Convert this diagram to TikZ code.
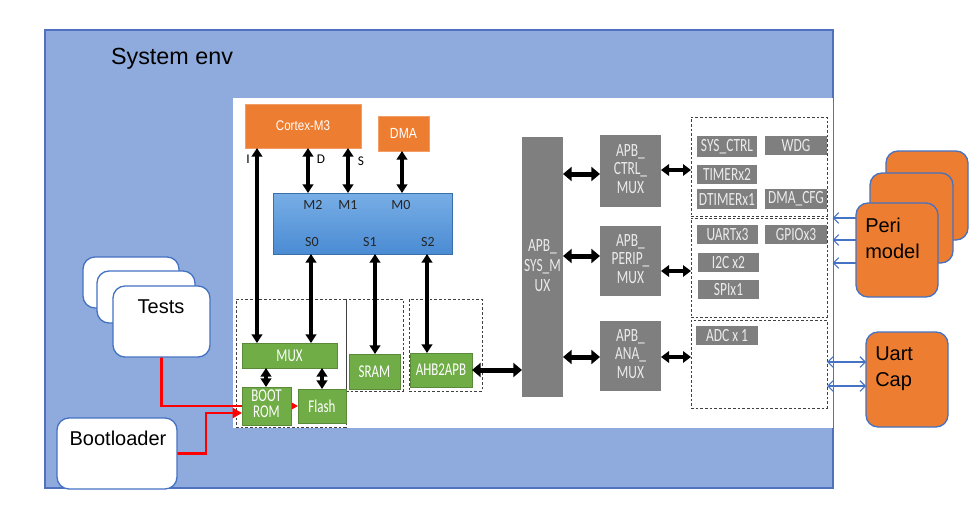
\documentclass[tikz,border=0pt]{standalone}
\usepackage{fontspec}
\setmainfont{Liberation Sans}
\newfontfamily\cb{Carlito}
\newfontfamily\cbn[FakeStretch=0.72]{Carlito}
\newfontfamily\arn[FakeStretch=0.83]{Liberation Sans}
\usetikzlibrary{arrows.meta}
\pgfdeclarelayer{bg}
\pgfdeclarelayer{mid}
\pgfsetlayers{bg,mid,main}
\definecolor{envfill}{HTML}{8FAADC}
\definecolor{envline}{HTML}{4F71BE}
\definecolor{org}{HTML}{ED7D31}
\definecolor{grn}{HTML}{70AD47}
\definecolor{gry}{HTML}{7F7F7F}
\definecolor{bl}{HTML}{4472C4}
\definecolor{bmtop}{HTML}{78AEE6}
\definecolor{bmbot}{HTML}{4A8BD3}
\newcommand\lns[1]{\begin{tabular}{@{}c@{}}#1\end{tabular}}
% box from (x1,y1) to (x2,y2) in pixel units
\newcommand\bx[7]{\node[#1, minimum width={(#5-#3)*0.75pt}, minimum height={(#6-#4)*0.75pt}] (#2) at ({(#3+#5)/2},{(#4+#6)/2}) {#7};}
\begin{document}
\begin{tikzpicture}[x=0.75pt,y=-0.75pt,
  box/.style={inner sep=0pt, outer sep=0pt},
  orgbox/.style={box, fill=org, draw=org!75!white, line width=0.5pt, text=white, font=\arn\fontsize{10.5}{12}\selectfont},
  grnbox/.style={box, fill=grn, draw=grn!80!black, line width=0.5pt, text=white, font=\cbn\fontsize{13.5}{14}\selectfont},
  grybox/.style={box, fill=gry, text=white!92!black, font=\cbn\fontsize{14}{14}\selectfont},
  muxbox/.style={box, fill=gry, text=white!92!black, font=\cbn\fontsize{14}{14}\selectfont},
  bmx/.style={box, top color=bmtop, bottom color=bmbot, draw=bmbot!80!black, line width=0.4pt},
  blbl/.style={font=\cb\fontsize{10.5}{12}\selectfont, text=black!85, inner sep=0pt},
  slbl/.style={font=\cb\fontsize{10}{12}\selectfont, text=black, inner sep=0pt},
  dbox/.style={box, draw=black!75, dash pattern=on 2pt off 1.5pt, line width=0.6pt},
  bus/.style={line width=3.1pt, {Triangle[length=6.5pt,width=8pt]}-{Triangle[length=6.5pt,width=8pt]}},
  hbus/.style={line width=3.75pt, {Triangle[length=6.5pt,width=10.5pt]}-{Triangle[length=6.5pt,width=10.5pt]}},
  sbus/.style={line width=3pt, {Triangle[length=6pt,width=8.5pt]}-{Triangle[length=6pt,width=8.5pt]}},
  rarr/.style={draw=red, line width=2.2pt, -{Triangle[length=7pt,width=7.5pt]}},
  barb/.style={draw=bl, line width=0.8pt},
  tstack/.style={box, draw=bl, fill=white, line width=1pt, rounded corners=9pt},
  ostack/.style={box, draw=bl, fill=org, line width=1pt, rounded corners=9pt},
  bigtxt/.style={font=\fontsize{15}{19.5}\selectfont, inner sep=0pt, align=left}
]
\useasboundingbox (0,0) rectangle (979,511);

\begin{pgfonlayer}{bg}
\fill[white] (0,0) rectangle (979,511);
% environment
\bx{box, fill=envfill, draw=envline, line width=0.8pt}{env}{45}{30}{833}{488}{}
\bx{box, fill=white}{chip}{233}{98}{832.6}{428}{}
% dashed groups
\bx{dbox}{d1}{236}{299}{346}{427}{}
\bx{dbox}{d2}{346}{299}{403}{391}{}
\bx{dbox}{d3}{409}{299}{482}{391}{}
\bx{dbox}{db1}{691}{117}{827}{216}{}
\bx{dbox}{db2}{691}{218}{827}{317}{}
\bx{dbox}{db3}{691}{320}{827}{408}{}
\end{pgfonlayer}
\node[font=\fontsize{17.5}{20}\selectfont, inner sep=0pt, anchor=north] (envlbl) at (172,48) {System env};

% masters
\bx{orgbox}{cm}{245}{104}{361}{148}{Cortex-M3}
\bx{orgbox, font=\arn\fontsize{11}{12}\selectfont}{dma}{378}{116}{429}{151}{DMA}

% bus matrix
\bx{bmx}{bm}{273}{193}{452}{254}{}
\node[blbl] (m2) at (313,205) {M2};
\node[blbl] (m1) at (348,205) {M1};
\node[blbl] (m0) at (401,205) {M0};
\node[blbl] (s0) at (312,242) {S0};
\node[blbl] (s1) at (370,242) {S1};
\node[blbl] (s2) at (428,242) {S2};

% slaves
\bx{grnbox}{mux}{242}{343}{337}{368}{MUX}
\bx{grnbox, font=\cbn\fontsize{13.5}{12}\selectfont}{brom}{242}{387}{291}{425}{\lns{BOOT\\ROM}}
\bx{grnbox}{flash}{298}{389}{346}{423}{Flash}
\bx{grnbox}{sram}{349}{354}{400}{389}{SRAM}
\bx{grnbox}{ahb}{410}{353}{472}{387}{AHB2APB}

% APB
\bx{muxbox, font=\cbn\fontsize{14}{15}\selectfont}{sys}{522}{137}{563}{397}{\lns{APB\_\\SYS\_M\\UX}}
\bx{muxbox}{ctrl}{600}{135}{661}{207}{\lns{APB\_\\CTRL\_\\MUX}}
\bx{muxbox}{perip}{600}{226}{661}{296}{\lns{APB\_\\PERIP\_\\MUX}}
\bx{muxbox}{ana}{600}{321}{661}{391}{\lns{APB\_\\ANA\_\\MUX}}

% peripherals
\bx{grybox}{sysctrl}{697}{136}{757}{157}{SYS\_CTRL}
\bx{grybox}{wdg}{765}{136}{827}{155}{WDG}
\bx{grybox}{timer}{697}{165}{757}{184}{TIMERx2}
\bx{grybox}{dtimer}{697}{189}{757}{209}{DTIMERx1}
\bx{grybox}{dmacfg}{765}{189}{827}{209}{DMA\_CFG}
\bx{grybox}{uart}{697}{225}{758}{244}{UARTx3}
\bx{grybox}{gpio}{765}{225}{827}{244}{GPIOx3}
\bx{grybox}{i2c}{698}{253}{759}{272}{I2C x2}
\bx{grybox}{spi}{698}{280}{759}{299}{SPIx1}
\bx{grybox}{adc}{696}{326}{758}{345}{ADC x 1}

% bus arrows
\coordinate (xI) at (257,0);
\coordinate (xD) at (308,0);
\coordinate (xS) at (348,0);
\coordinate (xM0) at (402,0);
\coordinate (xS0) at (311,0);
\coordinate (xS1) at (375,0);
\coordinate (xS2) at (427,0);
\draw[bus] (cm.south -| xI) -- (mux.north -| xI);
\draw[bus] (cm.south -| xD) -- (bm.north -| xD);
\draw[bus] (cm.south -| xS) -- (bm.north -| xS);
\draw[bus] (dma.south -| xM0) -- (bm.north -| xM0);
\draw[bus] (bm.south -| xS0) -- (mux.north -| xS0);
\draw[bus] (bm.south -| xS1) -- (sram.north -| xS1);
\draw[bus] (bm.south -| xS2) -- (ahb.north -| xS2);
\node[slbl] (lI) at (248,159) {I};
\node[slbl] (lD) at (321,159) {D};
\node[slbl] (lS) at (361,161) {S};

\coordinate (xB) at (266,0);
\coordinate (xF) at (322,0);
\draw[bus, line width=2.6pt] (mux.south -| xB) -- (brom.north -| xB);
\draw[bus, line width=2.6pt] (mux.south -| xF) -- (flash.north -| xF);

\draw[hbus] (ahb.east) -- (sys.west |- ahb.east);
\coordinate (yc) at (0,174);
\coordinate (yp) at (0,256);
\coordinate (ya) at (0,357);
\draw[hbus] (sys.east |- yc) -- (ctrl.west |- yc);
\draw[hbus] (sys.east |- yp) -- (perip.west |- yp);
\draw[hbus] (sys.east |- ya) -- (ana.west |- ya);
\coordinate (yc2) at (0,170);
\coordinate (yp2) at (0,271);
\draw[sbus] (ctrl.east |- yc2) -- (db1.west |- yc2);
\draw[sbus] (perip.east |- yp2) -- (db2.west |- yp2);
\draw[sbus] (ana.east |- ya) -- (db3.west |- ya);

% peri models
\bx{ostack}{peri3}{886}{151}{968}{240}{}
\bx{ostack}{peri2}{870}{173}{953}{263}{}
\bx{ostack}{peri1}{856}{203}{938}{297}{}
\node[bigtxt, anchor=north west] (peritxt) at (865,218) {Peri\\model};
\bx{ostack}{ucap}{866}{332}{948}{427}{}
\node[bigtxt, anchor=north west] (ucaptxt) at (875,346) {Uart\\Cap};

\coordinate (pa1) at (0,218);
\coordinate (pa2) at (0,240);
\coordinate (pa3) at (0,263);
\draw[barb, {Straight Barb[length=4pt,width=8pt]}-] (chip.east |- pa1) -- (peri1.west |- pa1);
\draw[barb, {Straight Barb[length=4pt,width=8pt]}-] (chip.east |- pa2) -- (peri1.west |- pa2);
\draw[barb, {Straight Barb[length=4pt,width=8pt]}-] (chip.east |- pa3) -- (peri1.west |- pa3);
\coordinate (ua1) at (0,362);
\coordinate (ua2) at (0,386);
\draw[barb, {Straight Barb[length=4pt,width=8pt]}-{Straight Barb[length=4pt,width=8pt]}] (db3.east |- ua1) -- (ucap.west |- ua1);
\draw[barb, {Straight Barb[length=4pt,width=8pt]}-{Straight Barb[length=4pt,width=8pt]}] (db3.east |- ua2) -- (ucap.west |- ua2);

% tests & bootloader
\bx{tstack}{tests3}{83}{257}{179}{308}{}
\bx{tstack}{tests2}{97}{271}{195}{323}{}
\bx{tstack}{tests1}{113}{286}{210}{357}{}
\node[bigtxt, anchor=north] (teststxt) at (161,299) {Tests};
\bx{tstack}{boot}{57}{418}{177}{489}{}
\node[bigtxt, anchor=north] (boottxt) at (118,431) {Bootloader};

\begin{pgfonlayer}{mid}
\draw[rarr] (tests1.south) |- (flash.west);
\coordinate (bk1) at (206,413);
\draw[rarr] (boot.east) -| (bk1) -- (brom.west |- bk1);
\end{pgfonlayer}
\end{tikzpicture}
\end{document}
